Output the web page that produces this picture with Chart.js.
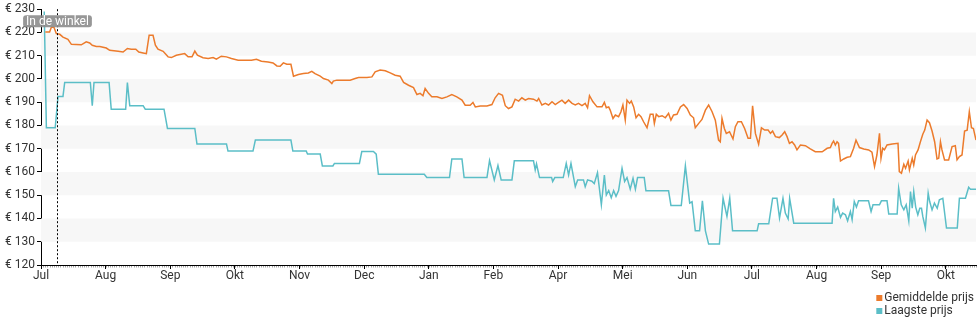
<!DOCTYPE html>
<html>
<head>
<meta charset="utf-8">
<title>Prijsverloop</title>
<script src="https://cdn.jsdelivr.net/npm/chart.js@4/dist/chart.umd.min.js"></script>
<style>
  html, body { margin: 0; padding: 0; background: #fff; }
  #wrap { width: 980px; height: 325px; }
</style>
</head>
<body>
<div id="wrap"><canvas id="chart" width="980" height="325"></canvas></div>
<script>
// Month ticks along the day axis (one tick every 30 days)
const monthLabels = ['Jul', 'Aug', 'Sep', 'Okt', 'Nov', 'Dec', 'Jan', 'Feb', 'Apr', 'Mei', 'Jun', 'Jul', 'Aug', 'Sep', 'Okt'];
const monthDays = [0, 30, 60, 90, 120, 150, 180, 210, 240, 270, 300, 330, 360, 390, 420];
const lastDay = 434;

// Day the product appeared in the shop
const storeDay = 7.5;
const storeLabel = 'In de winkel';

// Average price (Gemiddelde prijs)
const avgDays = [2.0, 4.0, 4.8, 6.0, 7.1, 8.7, 10.2, 12.5, 14.1, 18.7, 21, 22.6, 23.8, 25.7, 27.3, 30.3, 31.9, 35.8, 38.1, 40.1,
  41.9, 44, 45.4, 47.4, 48.9, 50.2, 52, 53.1, 54.3, 56.7, 59, 60.5, 62.8, 66.7, 68.3, 70.1, 71.4, 72.6, 75.2, 77.6,
  79.9, 81.4, 83.7, 86.1, 88.4, 91.5, 94.6, 97.7, 100, 102.3, 105.4, 107.7, 109.5, 111, 112.5, 114.1, 116, 117.2, 119.5, 121.8,
  124.1, 125.7, 127.2, 129.6, 131.1, 133.4, 135, 135.7, 137.3, 140.4, 143.5, 145.8, 147.4, 151.3, 153.6, 155.1, 157.4, 159.8, 162.1, 164.4,
  166.7, 168.3, 170.6, 172.9, 174.5, 176, 177.3, 178.3, 179.9, 181.4, 183.8, 186.1, 188.4, 190.7, 193, 195.4, 196.9, 199.2, 200.5, 201.6,
  203.9, 207, 209.3, 210.8, 212.4, 214.2, 215.5, 217, 218.6, 220.1, 221.7, 223.2, 224.8, 226.3, 228.6, 230.2, 231, 232.5, 234.1, 235.6,
  237.2, 238.7, 240.2, 241.8, 243.3, 244.9, 246.5, 248, 249.5, 251.1, 252.6, 253.7, 254.6, 256.2, 258.1, 260.4, 261.5, 262.4, 263.5, 264.2,
  265.5, 266.6, 268.1, 269.2, 270.1, 271.2, 272, 273.2, 274, 275.1, 276.2, 277.4, 278.5, 279.7, 281.3, 282.8, 284.1, 284.7, 285.6, 286.7,
  288.3, 289.8, 291.3, 292.4, 293.6, 295.2, 296.8, 298.3, 299.9, 301.4, 302.9, 303.7, 305.3, 306.8, 308.4, 309.9, 311.5, 313, 314.5, 315.3,
  316.1, 317.2, 318.1, 319.6, 321.2, 322.3, 323.5, 325.1, 326.6, 328.2, 329.3, 330.3, 331.6, 333.1, 334.4, 335.9, 337.5, 338.6, 339.6, 340.9,
  342.7, 344, 345.2, 346.3, 347.4, 348.6, 349.8, 350.9, 352.5, 354.8, 357.1, 359.4, 362.6, 364.9, 366.4, 367.2, 367.9, 368.7, 369.5, 370.2,
  371.1, 372.6, 374.2, 375.7, 377.2, 378.3, 379.9, 381.9, 384.2, 385.7, 386.9, 388, 389.2, 389.9, 390.7, 391.5, 392.7, 395.1, 397.8, 398.4,
  399.4, 400.5, 401.3, 402.5, 403.1, 404.4, 405.1, 405.9, 407.1, 408.2, 409.3, 410.2, 411.3, 412.4, 413.6, 414.8, 415.9, 416.7, 417.5, 418.2,
  419.4, 421.3, 422.9, 424.4, 425.2, 426.3, 427.5, 428.7, 429.9, 430.9, 431.9, 432.8, 434];
const avgPrices = [220.2, 220.2, 222.2, 222.2, 219.5, 219.2, 218, 217, 214.9, 214.7, 216, 215.5, 214.5, 214, 214, 213.3, 212.3, 211.9, 211.6, 213.1,
  212.8, 212.8, 211.6, 211.2, 210.9, 218.8, 218.8, 214.5, 212.8, 211.9, 209.5, 209.2, 210.2, 210.9, 209.5, 209.5, 212, 210.2, 209.1, 208.8,
  209.2, 208.5, 209.8, 209.5, 208.8, 208.1, 208.1, 208.1, 208.5, 207.6, 207.3, 206.9, 205.6, 205.5, 206.9, 206.3, 206.3, 201.2, 201.9, 202.3,
  202.6, 203.3, 202.3, 201.2, 200.2, 199.5, 198, 199.1, 199.5, 199.5, 199.5, 200.2, 200.6, 200.6, 200.9, 203.1, 203.8, 203.5, 202.6, 201.6,
  201.2, 198.5, 197.3, 196.3, 193.3, 193.8, 192.8, 195.9, 193.8, 192.3, 192.3, 191.6, 192.3, 193.3, 192.3, 190.9, 188.7, 188.7, 189.9, 188,
  188.4, 188.4, 189, 191.9, 193.8, 193, 188.5, 187.3, 188, 191.3, 190.5, 191.9, 190.9, 191.6, 191.3, 190.5, 191.6, 188.8, 189.5, 188.8,
  190.2, 189, 189.9, 190.9, 189.5, 190.9, 189.5, 188.8, 189.5, 188.5, 189.5, 187.6, 192.8, 190.2, 188, 188, 189.9, 187.6, 188, 186.6,
  183, 184.5, 183.8, 185.9, 188.8, 182.3, 190.9, 189.5, 190.5, 188, 183.3, 184.8, 183.8, 181.6, 179, 184.8, 184.8, 180.9, 184.8, 183.8,
  184.2, 183.3, 185.2, 182.3, 184.5, 184.8, 188, 189, 187.3, 184.5, 183.3, 179, 180.9, 182.6, 186.6, 188.8, 185.9, 182.3, 173.7, 173,
  183, 178.7, 176.6, 177.3, 174.2, 179.5, 181.6, 181.6, 178.7, 174.5, 174.5, 188.5, 176.6, 171.9, 179, 178, 178, 176.6, 177.6, 175.2,
  174.8, 175.9, 177.3, 175.2, 172.3, 173, 171.6, 169.5, 171.6, 171.3, 169.9, 168.7, 168.7, 170.2, 170.5, 172.3, 173.3, 171.6, 173, 172.3,
  164.7, 165.6, 166.3, 166.6, 170.2, 173.7, 170.5, 169.9, 169.5, 168.5, 162.3, 167.3, 176.6, 165.9, 170.2, 169.5, 171.6, 172, 172.3, 160.2,
  159.5, 163.3, 161.6, 164.7, 160.9, 165.9, 163, 167.3, 169.5, 173, 176.2, 178, 182.3, 181.2, 177.6, 173, 165.6, 165.9, 173, 169.5,
  165.2, 165.2, 170.9, 171.3, 165.2, 166.6, 167.3, 177.6, 178, 185.9, 179, 178.7, 173.7];

// Lowest price (Laagste prijs)
const lowDays = [1.5, 2.5, 6.6, 7.9, 10.2, 11, 22.9, 23.8, 24.6, 31.6, 32.6, 39.3, 40.1, 41.2, 47.4, 48.4, 57.1, 58.7, 71.4, 72.4,
  86.1, 86.8, 98.4, 99.5, 116, 116.9, 123.1, 123.7, 129.6, 130.6, 135.5, 136.2, 147.8, 148.9, 154.3, 155.6, 156.6, 177.9, 179.1, 189.6,
  190.7, 195.4, 196.4, 207, 208.2, 210.4, 212.1, 213.6, 218.6, 219.7, 228.6, 229.4, 230, 231.4, 237, 237.5, 238.5, 242.4, 243.8, 244.9,
  246, 248, 249.1, 251.8, 252.6, 253.7, 255.7, 256.8, 258.3, 260.1, 261.5, 262.4, 263.5, 264.7, 265.8, 266.9, 268.1, 269.7, 270.9, 272,
  273.5, 274.8, 275.9, 276.9, 280, 280.8, 291.3, 292.4, 297.2, 299.1, 301.1, 302.2, 303.7, 305.7, 307, 308.4, 309.9, 314.9, 316.6, 318.4,
  319.7, 321, 332.4, 333.1, 337.8, 339.6, 341.6, 342.8, 344.4, 345.5, 346.8, 347.5, 349.4, 367.2, 367.9, 368.7, 369.8, 371.1, 372.1, 373.4,
  374.4, 375.7, 376.5, 377.5, 378.5, 379.5, 384.1, 385.3, 386.2, 389.2, 390.1, 392.7, 393.5, 397.4, 398.1, 399.3, 400.5, 401.6, 402.8, 403.6,
  404.4, 405.1, 406, 407, 407.9, 408.7, 409.3, 410.5, 411.8, 412.5, 413.6, 414.7, 416, 417, 418.6, 420.3, 425.3, 426.3, 429.1, 430.6,
  431.4, 434];
const lowPrices = [229, 179, 179, 192.5, 192.5, 198.5, 198.5, 188.5, 198.5, 198.5, 187, 187, 198.5, 188.5, 188.5, 187, 187, 178.7, 178.7, 172,
  172, 169, 169, 173.7, 173.7, 169, 169, 167.7, 167.7, 162.6, 162.6, 163.7, 163.7, 168.8, 168.8, 167.7, 159, 159, 157.6, 157.6,
  165.6, 165.6, 157.6, 157.6, 164.9, 156.6, 162.8, 156.6, 156.6, 164.8, 164.8, 160.9, 163.5, 157.6, 157.6, 155.9, 157.6, 157.6, 163.7, 158.7,
  163.7, 153.7, 156.6, 156.6, 153.7, 156.6, 156, 155, 159.7, 145.9, 158.7, 150.1, 152, 148.9, 152, 149.5, 152, 161.6, 155.9, 157.6,
  152.6, 157.3, 152.6, 157.6, 157.6, 151.9, 151.9, 145.6, 145.6, 162.6, 146.6, 147.2, 134.7, 134.7, 147.6, 134.7, 129, 129, 148.7, 140.9,
  148.7, 134.7, 134.7, 137.7, 137.7, 148.7, 148.7, 140.2, 148.7, 142.3, 139.8, 148.7, 138, 138, 148.7, 143, 144.9, 140.5, 142.3, 141.6,
  139, 143, 139.5, 147.3, 144.9, 147.6, 147.6, 143, 145.9, 145.9, 147.6, 147.6, 141.9, 141.9, 153, 145.9, 143.7, 145.9, 139, 151.6,
  144.4, 151.6, 144.9, 141.6, 144.4, 144.4, 140.9, 135.9, 150.9, 147.3, 143.7, 146.6, 144.4, 148, 148.7, 135.9, 135.9, 148.7, 148.7, 153.4,
  152.6, 152.6];

const seriesNames = ['Gemiddelde prijs', 'Laagste prijs'];
const seriesColors = ['#ec7b2c', '#5bbec7'];

const FONT = 'Roboto, "Noto Sans", sans-serif';
const TEXT = '#333333';

const toPoints = (xs, ys) => xs.map((x, i) => ({ x: x, y: ys[i] }));

// Alternating light bands behind the plot
const bandPlugin = {
  id: 'bands',
  beforeDatasetsDraw(chart) {
    const { ctx, chartArea, scales } = chart;
    const y = scales.y;
    ctx.save();
    ctx.fillStyle = '#f7f7f7';
    for (let v = y.min; v < y.max; v += 10) {
      if ((v / 10) % 2 === 1) {
        const top = y.getPixelForValue(v + 10);
        const bottom = y.getPixelForValue(v);
        ctx.fillRect(chartArea.left, top, chartArea.right - chartArea.left, bottom - top);
      }
    }
    ctx.restore();
  }
};

// Fine daily ticks just under the time axis
const dayTicksPlugin = {
  id: 'dayTicks',
  afterDraw(chart) {
    const { ctx, chartArea, scales } = chart;
    const x = scales.x;
    ctx.save();
    ctx.strokeStyle = 'rgba(0,0,0,0.35)';
    ctx.lineWidth = 1;
    ctx.beginPath();
    for (let d = 0; d <= lastDay; d++) {
      const px = Math.round(x.getPixelForValue(d)) + 0.5;
      ctx.moveTo(px, chartArea.bottom + 1);
      ctx.lineTo(px, chartArea.bottom + 2.5);
    }
    ctx.stroke();
    ctx.restore();
  }
};

// Dotted marker for the day the product arrived in the shop
const storePlugin = {
  id: 'storeMarker',
  afterDatasetsDraw(chart) {
    const { ctx, chartArea, scales } = chart;
    const px = Math.round(scales.x.getPixelForValue(storeDay)) + 0.5;
    ctx.save();
    ctx.strokeStyle = '#000';
    ctx.lineWidth = 1;
    ctx.setLineDash([2, 2]);
    ctx.beginPath();
    ctx.moveTo(px, chartArea.top);
    ctx.lineTo(px, chartArea.bottom);
    ctx.stroke();
    ctx.setLineDash([]);
    ctx.font = '12px ' + FONT;
    const w = ctx.measureText(storeLabel).width + 6;
    const h = 12;
    const bx = px - w / 2;
    const by = chartArea.top + 6;
    ctx.fillStyle = 'rgba(140,140,140,0.9)';
    ctx.beginPath();
    ctx.roundRect(bx, by, w, h, 3);
    ctx.fill();
    ctx.fillStyle = '#fff';
    ctx.textAlign = 'center';
    ctx.textBaseline = 'middle';
    ctx.fillText(storeLabel, px, by + h / 2 + 0.5);
    ctx.restore();
  }
};

// Legend stacked in the bottom right corner
const legendPlugin = {
  id: 'cornerLegend',
  afterDraw(chart) {
    const { ctx } = chart;
    const items = chart.data.datasets;
    ctx.save();
    ctx.font = '12px ' + FONT;
    ctx.textBaseline = 'middle';
    ctx.textAlign = 'left';
    const widths = items.map(ds => ctx.measureText(ds.label).width);
    const maxW = Math.max(...widths);
    const x0 = chart.width - 5 - maxW - 9;
    items.forEach((ds, i) => {
      const cy = 298 + i * 13;
      ctx.fillStyle = ds.borderColor;
      ctx.fillRect(x0, cy - 3, 6, 6);
      ctx.fillStyle = TEXT;
      ctx.fillText(ds.label, x0 + 8, cy);
    });
    ctx.restore();
  }
};

new Chart(document.getElementById('chart'), {
  type: 'line',
  data: {
    datasets: [
      {
        label: seriesNames[0],
        data: toPoints(avgDays, avgPrices),
        borderColor: seriesColors[0],
        backgroundColor: seriesColors[0],
        borderWidth: 1.5,
        pointRadius: 0,
        tension: 0,
        fill: false
      },
      {
        label: seriesNames[1],
        data: toPoints(lowDays, lowPrices),
        borderColor: seriesColors[1],
        backgroundColor: seriesColors[1],
        borderWidth: 1.5,
        pointRadius: 0,
        tension: 0,
        fill: false
      }
    ]
  },
  options: {
    responsive: false,
    animation: false,
    events: [],
    layout: { padding: { top: 9, right: 4, left: 0, bottom: 0 } },
    plugins: {
      legend: { display: false },
      tooltip: { enabled: false }
    },
    scales: {
      x: {
        type: 'linear',
        min: 0,
        max: lastDay,
        afterBuildTicks(scale) {
          scale.ticks = monthDays.map(v => ({ value: v }));
        },
        afterFit(scale) { scale.height = 60; },
        ticks: {
          autoSkip: false,
          maxRotation: 0,
          padding: 0,
          color: TEXT,
          font: { family: FONT, size: 12 },
          callback: (v, i) => monthLabels[i]
        },
        grid: { drawOnChartArea: false, drawTicks: true, tickLength: 4, color: '#000' },
        border: { display: true, color: '#000', width: 1 }
      },
      y: {
        type: 'linear',
        min: 120,
        max: 230,
        afterFit(scale) { scale.width = 41; },
        ticks: {
          stepSize: 10,
          padding: 2,
          color: TEXT,
          font: { family: FONT, size: 12 },
          callback: v => '€ ' + v
        },
        grid: { drawOnChartArea: false, drawTicks: true, tickLength: 4, color: '#000' },
        border: { display: true, color: '#000', width: 1 }
      }
    }
  },
  plugins: [bandPlugin, dayTicksPlugin, storePlugin, legendPlugin]
});
</script>
</body>
</html>
